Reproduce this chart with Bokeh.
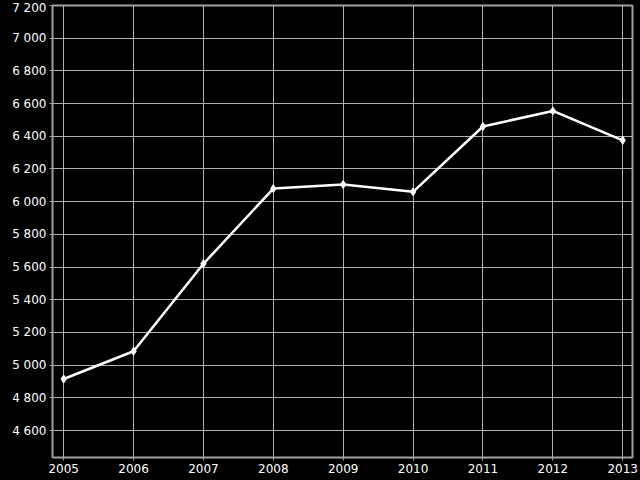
from bokeh.plotting import figure
from bokeh.embed import file_html
from bokeh.resources import INLINE
from bokeh.models import FixedTicker, CustomJSTickFormatter, GlobalInlineStyleSheet, Range1d

years = [2005, 2006, 2007, 2008, 2009, 2010, 2011, 2012, 2013]
values = [4915, 5085, 5620, 6080, 6105, 6060, 6460, 6555, 6375]
y_ticks = [4600, 4800, 5000, 5200, 5400, 5600, 5800, 6000, 6200, 6400, 6600, 6800, 7000, 7200]

p = figure(width=640, height=480, output_backend="svg", toolbar_location=None,
           x_range=Range1d(2004.84, 2013.14), y_range=Range1d(4435, 7200),
           background_fill_color="black", border_fill_color="black",
           min_border_left=52, min_border_right=8, min_border_top=5, min_border_bottom=23)
p.stylesheets.append(GlobalInlineStyleSheet(css="html,body{margin:0;padding:0;background:#000;overflow:hidden;}"))

p.outline_line_color = "#a0a0a0"
p.outline_line_width = 2

p.line(years, values, line_color="white", line_width=2.5)
p.scatter(years, values, marker="diamond", size=8, fill_color="white", line_color="white")

p.xaxis.ticker = FixedTicker(ticks=years)
p.yaxis.ticker = FixedTicker(ticks=y_ticks)
p.yaxis.formatter = CustomJSTickFormatter(code="return tick.toFixed(0).replace(/\\B(?=(\\d{3})+(?!\\d))/g, ' ');")

for ax in (p.xaxis, p.yaxis):
    ax.axis_line_color = None
    ax.major_tick_line_color = "#a0a0a0"
    ax.major_tick_out = 3
    ax.major_tick_in = 0
    ax.minor_tick_line_color = None
    ax.major_label_text_color = "white"
    ax.major_label_text_font = "DejaVu Sans"
    ax.major_label_text_font_size = "12px"
    ax.major_label_standoff = 3

p.xgrid.grid_line_color = "#b0b0b0"
p.ygrid.grid_line_color = "#b0b0b0"
p.xgrid.grid_line_width = 1
p.ygrid.grid_line_width = 1

open("out.html", "w").write(file_html(p, INLINE))
